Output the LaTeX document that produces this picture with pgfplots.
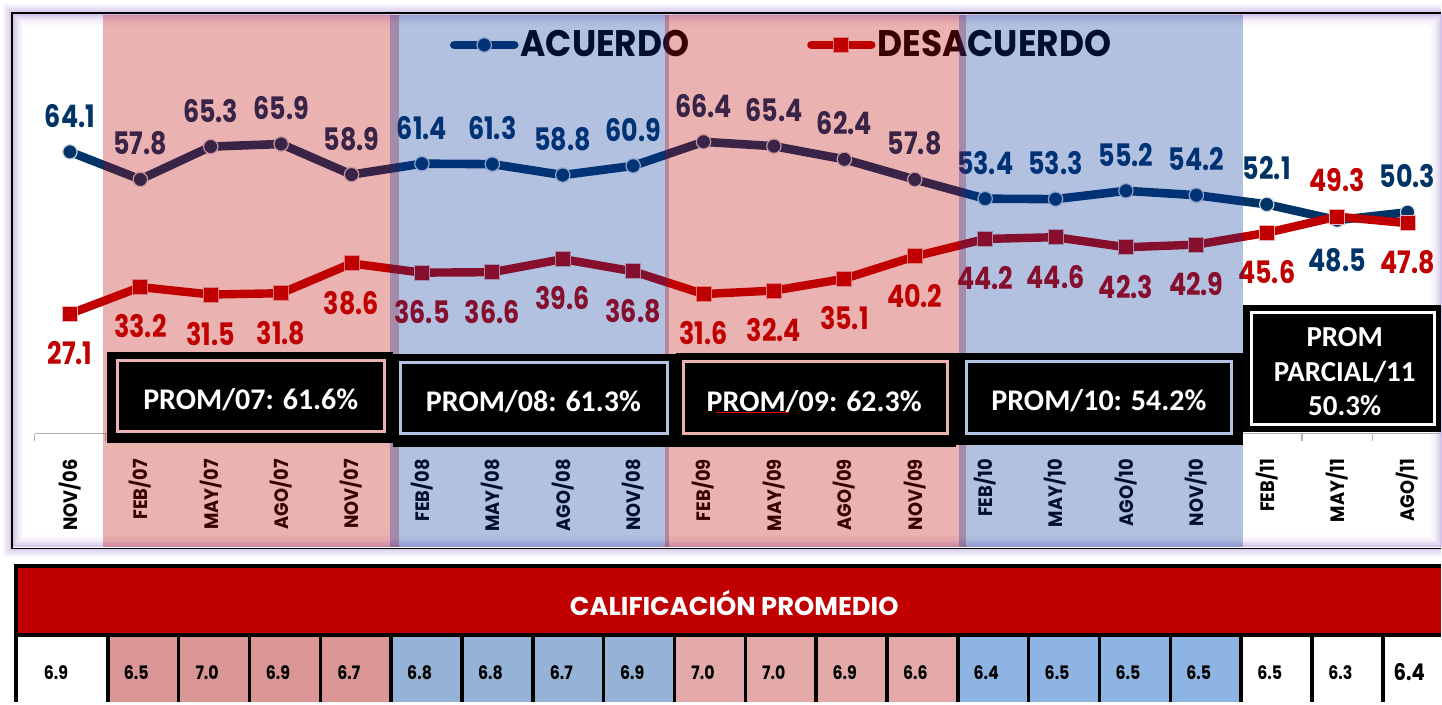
\documentclass[border=0pt]{standalone}
\usepackage{pgfplots}
\pgfplotsset{compat=1.18}
\usepackage{pgfplotstable}
\usepackage{fontspec}
\setmainfont{Poppins}
\newfontfamily\legfont{Poppins}[FakeStretch=0.93]
\newfontfamily\labfont{Poppins}[FakeStretch=0.82]
\newfontfamily\tickfont{Poppins}[FakeStretch=0.92]
\newfontfamily\tabfont{Poppins}[FakeStretch=0.85]
\newfontfamily\calfont{Carlito}

\definecolor{navy}{RGB}{0,51,102}
\definecolor{dred}{RGB}{192,0,0}
\definecolor{bandblue}{RGB}{0,51,153}
\definecolor{glow}{RGB}{150,110,200}
\definecolor{cpink}{RGB}{217,150,148}
\definecolor{cblue}{RGB}{149,179,215}
\definecolor{cpinkb}{RGB}{228,170,170}
\definecolor{cblueb}{RGB}{141,180,226}
\definecolor{bpink}{RGB}{236,178,178}
\definecolor{bblue}{RGB}{178,194,224}

\pgfplotstableread{
x acu des
0 64.1 27.1
1 57.8 33.2
2 65.3 31.5
3 65.9 31.8
4 58.9 38.6
5 61.4 36.5
6 61.3 36.6
7 58.8 39.6
8 60.9 36.8
9 66.4 31.6
10 65.4 32.4
11 62.4 35.1
12 57.8 40.2
13 53.4 44.2
14 53.3 44.6
15 55.2 42.3
16 54.2 42.9
17 52.1 45.6
18 48.5 49.3
19 50.3 47.8
}\data

\pgfplotstableread{
x yy v
-0.199 -673 6.9
0.943 -673 6.5
1.949 -673 7.0
2.955 -673 6.9
3.961 -673 6.7
4.967 -673 6.8
5.974 -673 6.8
6.980 -673 6.7
7.986 -673 6.9
8.992 -673 7.0
9.998 -673 7.0
11.004 -673 6.9
12.010 -673 6.6
13.016 -673 6.4
14.022 -673 6.5
15.028 -673 6.5
16.035 -673 6.5
17.041 -673 6.5
18.047 -673 6.3
19.024 -673 6.4
}\calif

\pgfplotsset{
  labnum/.style={nodes near coords={\pgfmathprintnumber[fixed,fixed zerofill,precision=1,assume math mode=true]{\pgfplotspointmeta}}},
}

\begin{document}
\begin{tikzpicture}
\begin{scope}[x=0.5pt,y=-0.5pt]
\useasboundingbox (0,0) rectangle (1442,703);
\fill[white] (0,0) rectangle (1442,703);
% outer glow
\foreach \d/\o in {9/0.06,7/0.08,5/0.10,3/0.10,1/0.12}{
  \fill[glow,opacity=\o] (12-\d,13-\d) rectangle (1442,549+\d);
}
\fill[white] (12,13) rectangle (1442,549);
\end{scope}

% main chart
\begin{axis}[
  at={(7pt,-274pt)}, anchor=south west,
  scale only axis, width=713pt, height=266.5pt,
  xmin=-0.7947, xmax=19.441, ymin=-26.31, ymax=95.38,
  clip=false,
  axis line style={draw=none},
  ytick=\empty,
  xtick={0,...,19},
  xticklabels={NOV/06,FEB/07,MAY/07,AGO/07,NOV/07,FEB/08,MAY/08,AGO/08,NOV/08,FEB/09,MAY/09,AGO/09,NOV/09,FEB/10,MAY/10,AGO/10,NOV/10,FEB/11,MAY/11,AGO/11},
  major tick length=0pt,
  xticklabel shift=-47.7pt,
  xticklabel style={rotate=90, anchor=east, font=\tickfont\bfseries\fontsize{9.7}{10}\selectfont, text=black},
  legend columns=2,
  legend cell align=left,
  legend style={at={(0.30575,0.94371)}, anchor=west, draw=none, fill=none, inner sep=0pt,
    font=\legfont\bfseries\fontsize{18.5}{20}\selectfont,
    /tikz/every even column/.append style={column sep=58pt}, nodes={inner sep=1pt}},
  legend image code/.code={\draw[mark repeat=2, mark phase=2, line cap=round, #1] plot coordinates {(0pt,0pt) (15pt,0pt) (30pt,0pt)};},
]
\addplot[navy, line width=4.3pt, line join=round, mark=*, mark size=3.6pt,
  mark options={fill=navy, draw=white!80!navy, line width=0.6pt}] table[x=x,y=acu]{\data};
\addlegendentry{ACUERDO}
\addplot[dred, line width=4.2pt, line join=round, mark=square*, mark size=3.75pt,
  mark options={fill=dred, draw=white!70!dred, line width=0.5pt}] table[x=x,y=des]{\data};
\addlegendentry{DESACUERDO}
% labels ACUERDO
\addplot[forget plot, draw=none, mark=none, point meta=y, labnum,
  nodes near coords style={anchor=center, yshift=18pt, text=navy, font=\labfont\bfseries\fontsize{15.5}{16}\selectfont},
  skip coords between index={18}{19}] table[x=x,y=acu]{\data};
\addplot[forget plot, draw=none, mark=none, point meta=y, labnum,
  nodes near coords style={anchor=center, yshift=-20pt, text=navy, font=\labfont\bfseries\fontsize{15.5}{16}\selectfont},
  skip coords between index={0}{18}, skip coords between index={19}{20}] table[x=x,y=acu]{\data};
% labels DESACUERDO
\addplot[forget plot, draw=none, mark=none, point meta=y, labnum,
  nodes near coords style={anchor=center, yshift=-19.75pt, text=dred, font=\labfont\bfseries\fontsize{15.5}{16}\selectfont},
  skip coords between index={18}{19}] table[x=x,y=des]{\data};
\addplot[forget plot, draw=none, mark=none, point meta=y, labnum,
  nodes near coords style={anchor=center, yshift=18.5pt, text=dred, font=\labfont\bfseries\fontsize{15.5}{16}\selectfont},
  skip coords between index={0}{18}, skip coords between index={19}{20}] table[x=x,y=des]{\data};
\end{axis}

\begin{scope}[x=0.5pt,y=-0.5pt]
% axis line with ticks
\draw[gray!60, line width=0.6pt] (35,434) -- (1442,434);
\foreach \i in {0,...,19}{\draw[gray!60, line width=0.6pt] ({34.8+70.47*\i},434) -- ++(0,7);}
% inner glow
\foreach \d/\o in {2/0.40,4/0.28,6/0.18,8/0.11,10/0.06,12/0.03}{
  \draw[glow,opacity=\o,line width=1pt] (12+\d,13+\d) rectangle (1442-\d+2,549-\d);
}
\end{scope}

% translucent bands
\begin{axis}[
  at={(7pt,-274pt)}, anchor=south west,
  scale only axis, width=713pt, height=266.5pt,
  xmin=-0.7947, xmax=19.441, ymin=-26.31, ymax=95.38,
  hide axis, clip=false]
\fill[dred, opacity=0.3] (axis cs:0.468,-26.31) rectangle (axis cs:4.669,95.38);
\fill[bandblue, opacity=0.3] (axis cs:4.541,-26.31) rectangle (axis cs:8.514,95.38);
\fill[dred, opacity=0.3] (axis cs:8.458,-26.31) rectangle (axis cs:12.729,95.38);
\fill[bandblue, opacity=0.3] (axis cs:12.63,-26.31) rectangle (axis cs:16.66,95.38);
\end{axis}

\begin{scope}[x=0.5pt,y=-0.5pt]
% PROM boxes
\fill[black] (107,352) rectangle (393,443);
\draw[bpink, line width=1.5pt] (118,361) rectangle (385,432);
\node[text=white, font=\calfont\bfseries\fontsize{15}{18}\selectfont] at (251,400) {PROM/07: 61.6\%};
\fill[black] (393,354) rectangle (677,447);
\draw[bblue, line width=1.5pt] (401,363) rectangle (668,434);
\node[text=white, font=\calfont\bfseries\fontsize{15}{18}\selectfont] at (534,402) {PROM/08: 61.3\%};
\fill[black] (677,353) rectangle (957,447);
\draw[bpink, line width=1.5pt] (684,362) rectangle (948,434);
\node[text=white, font=\calfont\bfseries\fontsize{15}{18}\selectfont] at (815,402) {PROM/09: 62.3\%};
\draw[red, line width=0.5pt] (717,413) -- (790,413);
\fill[black] (957,353) rectangle (1244,445);
\draw[bblue, line width=1.5pt] (967,362) rectangle (1233,434);
\node[text=white, font=\calfont\bfseries\fontsize{15}{18}\selectfont] at (1100,401) {PROM/10: 54.2\%};
\fill[black] (1244,305) rectangle (1442,432);
\draw[white, line width=1.5pt] (1253,313) rectangle (1436,425);
\node[text=white, font=\calfont\bfseries\fontsize{14.5}{18}\selectfont] at (1346,337) {PROM};
\node[text=white, font=\calfont\bfseries\fontsize{14.5}{18}\selectfont] at (1346,372) {PARCIAL/11};
\node[text=white, font=\calfont\bfseries\fontsize{14.5}{18}\selectfont] at (1346,406) {50.3\%};
% frame
\draw[black, line width=0.8pt] (1442,13) -- (12,13) -- (12,549) -- (1442,549);
% table
\fill[black] (14,565) rectangle (1442,703);
\fill[dred] (18,569) rectangle (1442,634);
\node[text=white, font=\bfseries\fontsize{12.9}{14}\selectfont] at (735,604) {CALIFICACIÓN PROMEDIO};
\fill[white] (18,638) rectangle (108,703);
\fill[cpink] (108,638) rectangle (391.6,703);
\fill[cblue] (391.6,638) rectangle (675.2,703);
\fill[cpinkb] (675.2,638) rectangle (958.8,703);
\fill[cblueb] (958.8,638) rectangle (1242.4,703);
\fill[white] (1242.4,638) rectangle (1442,703);
\foreach \k in {0,...,18}{\draw[black, line width=1.75pt] ({108+70.9*\k},636) -- ({108+70.9*\k},703);}
\end{scope}

% table values
\begin{axis}[
  at={(7pt,-351.5pt)}, anchor=south west,
  scale only axis, width=713pt, height=71.5pt,
  xmin=-0.7947, xmax=19.441, ymin=-703, ymax=-560,
  hide axis, clip=false]
\addplot[draw=none, mark=none, point meta=explicit, labnum,
  nodes near coords style={anchor=center, text=black, font=\tabfont\bfseries\fontsize{9.3}{10}\selectfont},
  skip coords between index={19}{20}] table[x=x,y=yy,meta=v]{\calif};
\addplot[draw=none, mark=none, point meta=explicit, labnum,
  nodes near coords style={anchor=center, text=black, font=\tabfont\bfseries\fontsize{11.5}{12}\selectfont},
  skip coords between index={0}{19}] table[x=x,y=yy,meta=v]{\calif};
\end{axis}
\end{tikzpicture}
\end{document}
